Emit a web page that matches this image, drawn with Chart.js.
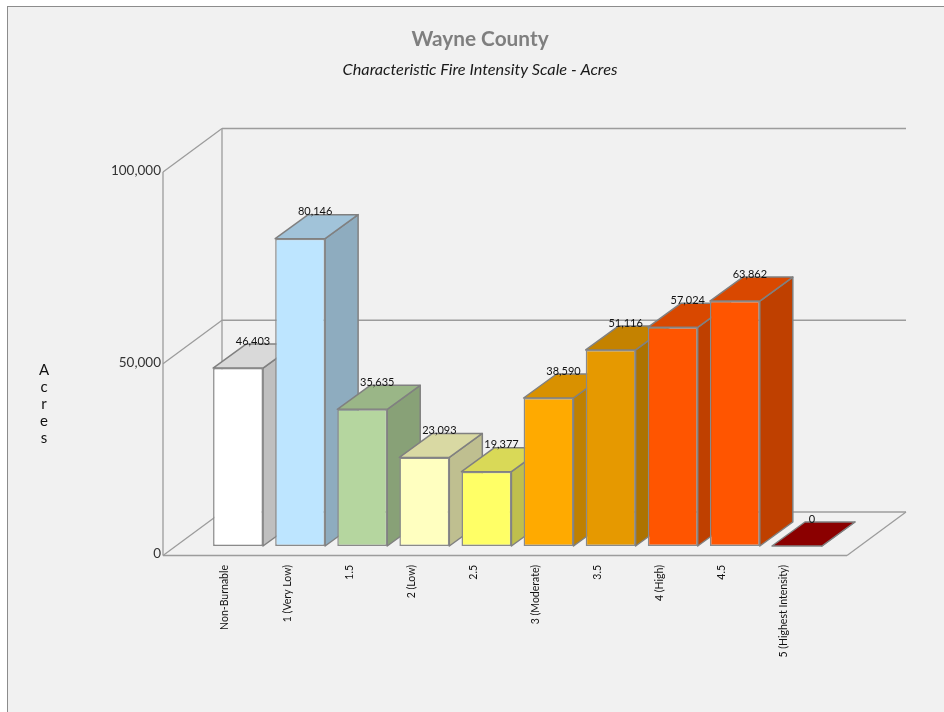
<!doctype html>

<html lang="en">
<head>
	<meta charset="utf-8">
	<title>Wayne County</title>
	<style>
		html, body { margin: 0; background: #fff; overflow: hidden; }
		#frame { position: absolute; left: 7px; top: 6px; right: 0; bottom: 0; background: #f1f1f1; border-left: 1px solid #8c8c8c; border-top: 1px solid #8c8c8c; }
		#myChart { position: absolute; left: 0; top: 0; }
	</style>
</head>

<body>
	<div id="frame"></div>
	<canvas id="myChart" width="944" height="712"></canvas>
	<script src="https://cdn.jsdelivr.net/npm/chart.js@4/dist/chart.umd.min.js"></script>

	<script>
		var categories = ["Non-Burnable", "1 (Very Low)", "1.5", "2 (Low)", "2.5", "3 (Moderate)", "3.5", "4 (High)", "4.5", "5 (Highest Intensity)"];
		var acres = [46403, 80146, 35635, 23093, 19377, 38590, 51116, 57024, 63862, 0];
		var barColors = ["#ffffff", "#bde5ff", "#b5d69f", "#ffffc0", "#ffff66", "#ffaa00", "#e69900", "#ff5500", "#ff5500", "#a30000"];
		var axisTitle = "Acres";
		var fontName = "Lato, sans-serif";

		// how far the box walls and bar tops sit from the plane the bars stand on
		var frontDx = -13, frontDy = 9.5;
		var backDx = 46, backDy = -34;
		var barDx = 33, barDy = -24;

		function shade(hex, f) {
			var n = parseInt(hex.slice(1), 16);
			var r = Math.round((n >> 16 & 255) * f), g = Math.round((n >> 8 & 255) * f), b = Math.round((n & 255) * f);
			return "rgb(" + r + "," + g + "," + b + ")";
		}

		function poly(ctx, pts, fill, stroke) {
			ctx.beginPath();
			ctx.moveTo(pts[0][0], pts[0][1]);
			for (var i = 1; i < pts.length; i++) ctx.lineTo(pts[i][0], pts[i][1]);
			ctx.closePath();
			ctx.fillStyle = fill;
			ctx.fill();
			ctx.strokeStyle = stroke;
			ctx.lineWidth = 1.5;
			ctx.lineJoin = "round";
			ctx.stroke();
		}

		function line(ctx, x1, y1, x2, y2) {
			ctx.beginPath();
			ctx.moveTo(x1, y1);
			ctx.lineTo(x2, y2);
			ctx.stroke();
		}

		// 3d box behind the bars: walls, floor, then top and side of each bar
		var boxPlugin = {
			id: "box",
			beforeDatasetsDraw: function(chart) {
				var ctx = chart.ctx, x = chart.scales.x, y = chart.scales.y;
				var left = x.left - 44, right = x.right + 19;
				var depthX = backDx - frontDx;
				var base = y.getPixelForValue(0);
				var top = y.getPixelForValue(y.max);
				ctx.save();
				ctx.strokeStyle = "#9c9c9c";
				ctx.lineWidth = 1.3;
				// floor
				line(ctx, left, base + frontDy, right, base + frontDy);
				line(ctx, right, base + frontDy, right + depthX, base + backDy);
				// side wall uprights
				line(ctx, left, base + frontDy, left, top + frontDy);
				line(ctx, left + depthX, base + backDy, left + depthX, top + backDy);
				// gridlines
				y.ticks.forEach(function(t) {
					var p = y.getPixelForValue(t.value);
					line(ctx, left, p + frontDy, left + depthX, p + backDy);
					line(ctx, left + depthX, p + backDy, right + depthX, p + backDy);
				});
				chart.getDatasetMeta(0).data.forEach(function(bar, i) {
					var l = bar.x - bar.width / 2, r = bar.x + bar.width / 2;
					var c = barColors[i];
					poly(ctx, [[r, bar.y], [r + barDx, bar.y + barDy], [r + barDx, bar.base + barDy], [r, bar.base]], shade(c, 0.75), "#808080");
					poly(ctx, [[l, bar.y], [l + barDx, bar.y + barDy], [r + barDx, bar.y + barDy], [r, bar.y]], shade(c, 0.85), "#808080");
				});
				ctx.restore();
			},
			afterDatasetsDraw: function(chart) {
				var ctx = chart.ctx;
				ctx.save();
				ctx.font = "11px " + fontName;
				ctx.fillStyle = "#111111";
				ctx.textAlign = "center";
				ctx.textBaseline = "middle";
				chart.getDatasetMeta(0).data.forEach(function(bar, i) {
					ctx.fillText(acres[i].toLocaleString("en-US"), bar.x + 15, bar.y - 27);
				});
				// stacked axis title
				ctx.font = "15px " + fontName;
				for (var i = 0; i < axisTitle.length; i++) {
					ctx.fillText(axisTitle[i], 44, 370 + i * 17);
				}
				ctx.restore();
			}
		};

		var myChart = new Chart(document.getElementById("myChart"), {
			type: "bar",
			plugins: [boxPlugin],
			data: {
				labels: categories,
				datasets: [{
					data: acres,
					backgroundColor: barColors,
					borderColor: "#8a8a8a",
					borderWidth: 1.5,
					borderSkipped: false,
					barPercentage: 0.804,
					categoryPercentage: 1
				}]
			},
			options: {
				responsive: false,
				animation: false,
				layout: { padding: { left: 16, right: 0, top: 27, bottom: 0 } },
				plugins: {
					legend: { display: false },
					tooltip: { enabled: false },
					title: {
						display: true,
						text: "Wayne County",
						color: "#7f7f7f",
						font: { family: fontName, size: 20.8, weight: "bold" },
						padding: { top: 0, bottom: 8 }
					},
					subtitle: {
						display: true,
						text: "Characteristic Fire Intensity Scale - Acres",
						color: "#1a1a1a",
						font: { family: fontName, size: 16.3, style: "italic" },
						padding: { top: 0, bottom: 83 }
					}
				},
				scales: {
					x: {
						grid: { display: false, drawTicks: false },
						border: { display: false },
						afterFit: function(axis) { axis.height = 166; },
						ticks: {
							autoSkip: false,
							minRotation: 90,
							maxRotation: 90,
							padding: 19,
							labelOffset: -13,
							color: "#111111",
							font: { family: fontName, size: 10.5 }
						}
					},
					y: {
						min: 0,
						max: 100000,
						grid: { display: false, drawTicks: false },
						border: { display: false },
						afterFit: function(axis) { axis.width = 191; },
						ticks: {
							stepSize: 50000,
							padding: 46,
							labelOffset: 8,
							color: "#333333",
							font: { family: fontName, size: 13.5 },
							callback: function(v) { return v.toLocaleString("en-US"); }
						}
					},
					// empty axis, only holds the space to the right of the plot
					spacer: {
						position: "right",
						grid: { display: false, drawTicks: false },
						border: { display: false },
						ticks: { display: false },
						afterFit: function(axis) { axis.width = 116; }
					}
				}
			}
		});
	</script>
</body>
</html>
